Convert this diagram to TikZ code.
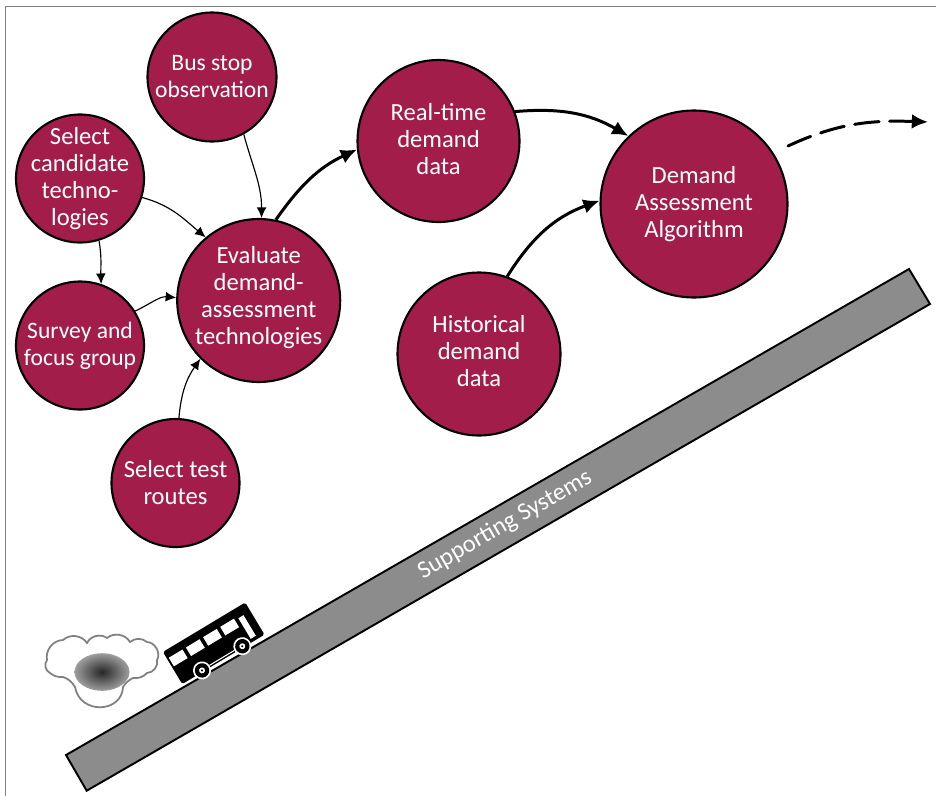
\documentclass[tikz,border=0pt]{standalone}
\usepackage{fontspec}
\setmainfont{Carlito}
\newfontfamily\tilig[Ligatures=Rare]{Carlito}
\usetikzlibrary{arrows.meta}
\definecolor{berry}{HTML}{A31D4B}
\definecolor{bandgray}{HTML}{8C8C8C}
\tikzset{
    stage/.style={circle,draw=black,line width=0.6pt,fill=berry,text=white,inner sep=-0.4cm,align=center,
        font=\fontsize{7pt}{7.7pt}\selectfont},
    stagesmall/.style={stage,font=\fontsize{6.7pt}{7.7pt}\selectfont},
    feed/.style={line width=0.33pt,-{Latex[length=3pt,width=2.8pt]}},
    flow/.style={line width=0.85pt,-{Latex[length=4.6pt,width=4.2pt]}},
}
\begin{document}
\begin{tikzpicture}
    \useasboundingbox (0,0) rectangle (9.36,7.96);
    \draw[gray,line width=0.35pt] (0.053,0) -- (0.053,7.893) -- (9.36,7.893);
    % band
    \draw[fill=bandgray,line width=0.55pt] (0.66,0.41) -- (9.09,5.27) -- (9.30,4.92) -- (0.867,0.053) -- cycle;
    \node[rotate=29.8,text=white,font=\fontsize{7pt}{7.7pt}\selectfont] (band) at (5.05,2.71) {Supporting Systems};
    % circles
    \node[stagesmall,minimum size=1.29cm] (stop) at (2.12,7.19) {Bus stop\\observa{\tilig ti}on};
    \node[stage,minimum size=1.28cm] (select) at (0.80,6.175) {Select\\candidate\\techno-\\logies};
    \node[stagesmall,minimum size=1.28cm] (survey) at (0.80,4.505) {Survey and\\focus group};
    \node[stage,minimum size=1.28cm] (routes) at (1.755,3.13) {Select test\\routes};
    \node[stage,minimum size=1.63cm,text depth=3.1pt] (eval) at (2.587,4.955) {Evaluate\\demand-\\assessment\\technologies};
    \node[stage,minimum size=1.62cm,text depth=1.1pt] (real) at (4.385,6.55) {Real-{\tilig ti}me\\demand\\data};
    \node[stage,minimum size=1.63cm,text depth=1.7pt] (hist) at (4.79,4.42) {Historical\\demand\\data};
    \node[stage,minimum size=1.87cm] (algo) at (6.94,5.92) {Demand\\Assessment\\Algorithm};
    \coordinate (nextA) at (7.88,6.50);
    \coordinate (nextB) at (9.28,6.74);
    % arrows
    \draw[feed] (stop.-61) to[out=-75,in=90] (eval.88);
    \draw[feed] (select.-17) to[out=-15,in=140] (eval.130);
    \draw[feed] (select.-73) to[out=-80,in=92] (survey.71);
    \draw[feed] (survey.32) to[out=25,in=175] (eval.178);
    \draw[feed] (routes.87) to[out=85,in=235] (eval.225);
    \draw[flow] (eval.78) to[out=55,in=205] (real.186);
    \draw[flow] (real.21) to[out=5,in=150] (algo.134);
    \draw[flow] (hist.70) to[out=58,in=200] (algo.178);
    \draw[flow,dashed,dash pattern=on 7pt off 3pt,line cap=round] (nextA) to[out=25,in=178] (nextB);
    % haze
    \draw[gray,line width=0.5pt] (0.47,1.36) to[bend left=50] (0.63,1.56)
        to[bend left=50] (0.87,1.53) to[bend left=50] (1.07,1.58) to[bend left=50] (1.30,1.54)
        to[bend left=40] (1.47,1.54) to[bend left=60] (1.57,1.36) to[bend left=50] (1.47,1.23)
        to[bend left=25] (1.33,1.18) to[bend right=15] (1.23,1.09)
        .. controls (1.22,0.83) and (0.80,0.81) .. (0.75,1.09)
        to[bend right=20] (0.63,1.19) to[bend left=20] (0.50,1.23) to[bend left=50] cycle;
    \shade[inner color=black!85,outer color=black!38] (1.02,1.24) ellipse (0.275 and 0.188);
    % bus
    \begin{scope}[shift={(2.13,1.52)},rotate=31]
        \fill[black,rounded corners=0.5pt] (-0.47,-0.185) rectangle (0.49,0.19);
        \foreach \x in {-0.45,-0.25,-0.05,0.15}
            \fill[white] (\x,0.01) rectangle +(0.16,0.10);
        \fill[white] (0.35,-0.15) rectangle (0.41,0.09);
        \draw[white,line width=0.3pt] (-0.14,-0.165) -- (0.15,-0.165);
        \foreach \x in {-0.23,0.24}
        {
            \fill[white] (\x,-0.17) circle (0.09);
            \fill[black] (\x,-0.17) circle (0.072);
            \fill[white] (\x,-0.17) circle (0.03);
            \fill[black] (\x,-0.17) circle (0.012);
        }
    \end{scope}
\end{tikzpicture}
\end{document}
